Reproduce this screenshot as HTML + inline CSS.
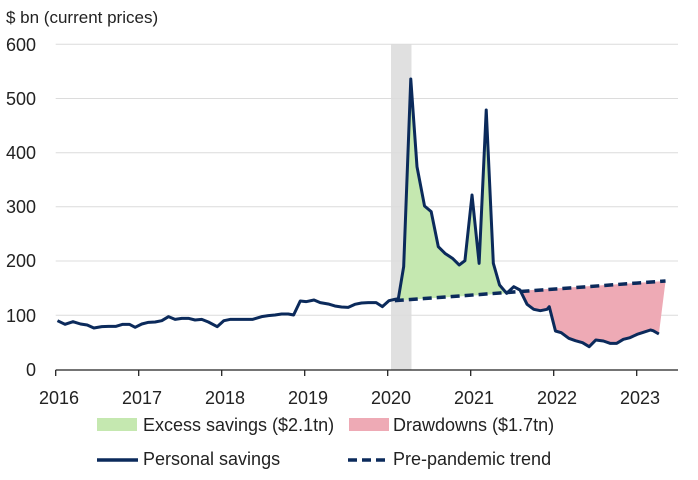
<!DOCTYPE html>
<html><head><meta charset="utf-8"><style>
html,body{margin:0;padding:0;background:#fff;}
svg{display:block;font-family:"Liberation Sans",sans-serif;}
</style></head><body>
<svg width="698" height="480" viewBox="0 0 698 480" xmlns="http://www.w3.org/2000/svg">
<text x="6" y="23" font-size="17" fill="#222">$ bn (current prices)</text>
<rect x="391" y="44" width="20.5" height="326" fill="#e0e0e0"/>
<g stroke="#dcdcdc" stroke-width="1">
<line x1="55.7" y1="44.3" x2="678" y2="44.3"/>
<line x1="55.7" y1="98.5" x2="678" y2="98.5"/>
<line x1="55.7" y1="152.7" x2="678" y2="152.7"/>
<line x1="55.7" y1="206.8" x2="678" y2="206.8"/>
<line x1="55.7" y1="261" x2="678" y2="261"/>
<line x1="55.7" y1="315.2" x2="678" y2="315.2"/>
</g>
<g font-size="18" fill="#222" text-anchor="end">
<text x="36" y="51">600</text><text x="36" y="105">500</text><text x="36" y="159">400</text>
<text x="36" y="213">300</text><text x="36" y="267">200</text><text x="36" y="322">100</text><text x="36" y="376">0</text>
</g>
<g transform="translate(-0.23,0) scale(0.44385,0.33333)">
<polygon fill="#c5e8b0" points="898,896 910,800 926,237 940,500 957,618 972,635 988,740 1003,760 1020,775 1035,795 1048,782 1064,585 1080,790 1096,330 1112,790 1126,855 1142,880 898,901"/>
<polygon fill="#eeaab5" points="1165,873 1172,870 1188,913 1203,928 1218,932 1233,928 1238,920 1252,993 1265,998 1282,1015 1297,1022 1313,1028 1328,1040 1343,1020 1360,1023 1375,1030 1390,1030 1405,1018 1420,1013 1436,1003 1450,997 1466,990 1472,992 1485,1002 1500,843"/>
<line x1="890" y1="902" x2="1500" y2="843" stroke="#0b2a5b" stroke-width="3.5" stroke-dasharray="9,5" vector-effect="non-scaling-stroke"/>
<polyline fill="none" stroke="#0b2a5b" stroke-width="3" stroke-linejoin="round" vector-effect="non-scaling-stroke" points="130,962 147,973 165,965 182,972 197,975 212,984 230,980 245,979 262,979 277,973 292,973 305,982 320,972 335,967 350,966 365,962 380,950 395,958 410,955 425,955 440,960 455,958 470,966 490,980 505,962 520,958 540,958 555,958 570,958 590,950 605,947 620,945 635,942 650,942 662,945 677,903 690,905 708,900 722,908 740,912 755,918 770,921 785,922 800,913 815,909 830,908 848,908 862,920 877,902 890,898 898,896 910,800 926,237 940,500 957,618 972,635 988,740 1003,760 1020,775 1035,795 1048,782 1064,585 1080,790 1096,330 1112,790 1126,855 1142,880 1158,860 1172,870 1188,913 1203,928 1218,932 1233,928 1238,920 1252,993 1265,998 1282,1015 1297,1022 1313,1028 1328,1040 1343,1020 1360,1023 1375,1030 1390,1030 1405,1018 1420,1013 1436,1003 1450,997 1466,990 1472,992 1485,1002"/>
</g>
<line x1="55.7" y1="370" x2="678" y2="370" stroke="#222" stroke-width="1.3"/>
<g stroke="#222" stroke-width="1.3">
<line x1="55.7" y1="370" x2="55.7" y2="376"/><line x1="138.7" y1="370" x2="138.7" y2="376"/><line x1="221.7" y1="370" x2="221.7" y2="376"/><line x1="304.7" y1="370" x2="304.7" y2="376"/><line x1="387.7" y1="370" x2="387.7" y2="376"/><line x1="470.7" y1="370" x2="470.7" y2="376"/><line x1="553.7" y1="370" x2="553.7" y2="376"/><line x1="636.7" y1="370" x2="636.7" y2="376"/>
</g>
<g font-size="18" fill="#222" text-anchor="middle">
<text x="59" y="404">2016</text><text x="142" y="404">2017</text><text x="225" y="404">2018</text><text x="308" y="404">2019</text><text x="391" y="404">2020</text><text x="474" y="404">2021</text><text x="557" y="404">2022</text><text x="640" y="404">2023</text>
</g>
<rect x="97" y="418" width="40" height="13" fill="#c5e8b0"/>
<text x="143" y="431" font-size="18" fill="#222">Excess savings ($2.1tn)</text>
<rect x="349" y="418" width="40" height="13" fill="#eeaab5"/>
<text x="393" y="431" font-size="18" fill="#222">Drawdowns ($1.7tn)</text>
<line x1="97" y1="460" x2="138" y2="460" stroke="#0b2a5b" stroke-width="3.5"/>
<text x="143" y="465" font-size="18" fill="#222">Personal savings</text>
<line x1="348" y1="460" x2="386" y2="460" stroke="#0b2a5b" stroke-width="3.5" stroke-dasharray="9,5"/>
<text x="393" y="465" font-size="18" fill="#222">Pre-pandemic trend</text>
</svg>
</body></html>
